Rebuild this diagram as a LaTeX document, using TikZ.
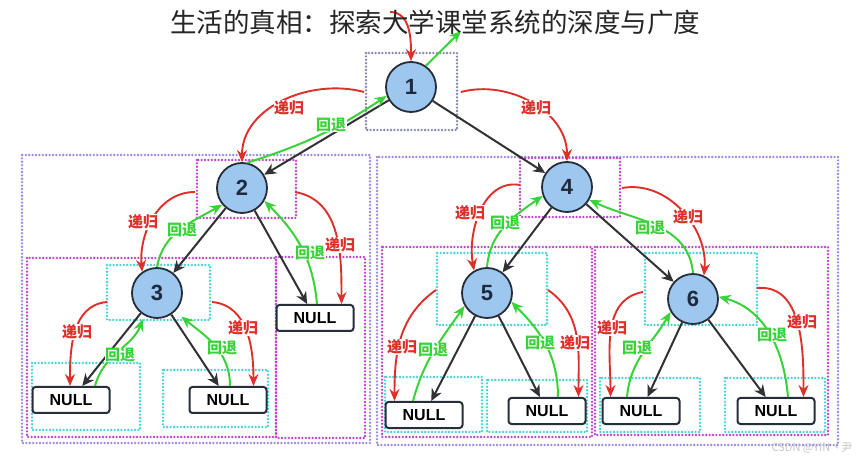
\documentclass[tikz,border=0pt]{standalone}
\usepackage{fontspec}
\setmainfont{Liberation Sans}
\newfontfamily\cjk{Noto Sans CJK SC}
\usetikzlibrary{arrows.meta}
\definecolor{nodefill}{RGB}{158,199,240}
\definecolor{nodeline}{RGB}{38,46,58}
\definecolor{numcol}{RGB}{30,42,62}
\definecolor{edgecol}{RGB}{50,50,54}
\definecolor{reccol}{RGB}{222,48,42}
\definecolor{backcol}{RGB}{58,210,58}
\definecolor{greybox}{RGB}{130,135,175}
\definecolor{outerbox}{RGB}{150,140,225}
\definecolor{magbox}{RGB}{188,70,200}
\definecolor{cyanbox}{RGB}{70,210,215}
\tikzset{
    treenode/.style={circle, draw=nodeline, line width=1.8pt, fill=nodefill, minimum size=50pt, inner sep=0pt,
        text=numcol, font=\fontsize{22}{22}\selectfont\bfseries},
    nullbox/.style={draw=nodeline, line width=2pt, rounded corners=3pt, fill=white, minimum width=77pt,
        minimum height=26pt, inner sep=0pt, font=\fontsize{16}{16}\selectfont\bfseries},
    tree/.style={draw=edgecol, line width=2pt, -{Stealth[length=12pt,width=11pt]}},
    rec/.style={draw=reccol, line width=1.9pt, -{Stealth[length=12pt,width=10pt]}},
    back/.style={draw=backcol, line width=2pt, -{Stealth[length=12pt,width=10pt]}},
    reclabel/.style={text=reccol, fill=white, inner sep=0.5pt, font=\cjk\fontsize{15}{15}\selectfont\bfseries},
    backlabel/.style={text=backcol, fill=white, inner sep=0.5pt, font=\cjk\fontsize{15}{15}\selectfont\bfseries},
    dotbox/.style={line width=2.6pt, line cap=round, dash pattern=on 0pt off 3.4pt}
}
\begin{document}
\begin{tikzpicture}[x=1pt, y=1pt]
        \useasboundingbox[fill=white] (0,0) rectangle (868,-462);
        \draw[dotbox, draw=greybox] (366,-53) rectangle (457,-130);
        \draw[dotbox, draw=outerbox] (22,-155) rectangle (370,-443);
        \draw[dotbox, draw=outerbox] (377,-157) rectangle (838,-445);
        \foreach \xa/\ya/\xb/\yb in {197/160/296/218, 520/158/620/217, 27/258/276/437, 276/257/365/438,
            382/247/592/437, 595/247/828/435}
            \draw[dotbox, draw=magbox] (\xa,-\ya) rectangle (\xb,-\yb);
        \foreach \xa/\ya/\xb/\yb in {107/265/210/320, 32/363/140/430, 163/370/268/427, 437/253/547/325,
            645/253/757/325, 385/377/482/432, 487/380/587/432, 600/378/700/432, 725/378/825/432}
            \draw[dotbox, draw=cyanbox] (\xa,-\ya) rectangle (\xb,-\yb);

        \node[treenode] (n1) at (411,-87) {1};
        \node[treenode] (n2) at (242,-188) {2};
        \node[treenode] (n3) at (157,-293) {3};
        \node[treenode] (n4) at (567,-187) {4};
        \node[treenode] (n5) at (487,-293) {5};
        \node[treenode] (n6) at (693,-299) {6};
        \node[nullbox] (z3l) at (71,-400) {NULL};
        \node[nullbox] (z3r) at (228,-400) {NULL};
        \node[nullbox] (z2r) at (315,-318) {NULL};
        \node[nullbox] (z5l) at (424,-415) {NULL};
        \node[nullbox] (z5r) at (547,-411) {NULL};
        \node[nullbox] (z6l) at (641,-411) {NULL};
        \node[nullbox] (z6r) at (776,-411) {NULL};

        \draw[tree] (n1) -- (n2);
        \draw[tree] (n1) -- (n4);
        \draw[tree] (n2) -- (n3);
        \draw[tree] (n2) -- (z2r);
        \draw[tree] (n3) -- (z3l);
        \draw[tree] (n3) -- (z3r);
        \draw[tree] (n4) -- (n5);
        \draw[tree] (n4) -- (n6);
        \draw[tree] (n5) -- (z5l);
        \draw[tree] (n5) -- (z5r);
        \draw[tree] (n6) -- (z6l);
        \draw[tree] (n6) -- (z6r);

        \coordinate (r1) at (390,-12);
        \coordinate (r2) at (364,-92);
        \coordinate (r4) at (461,-92);
        \coordinate (r3) at (195,-192);
        \coordinate (r2r) at (295,-192);
        \coordinate (r3l) at (107,-302);
        \coordinate (r3r) at (212,-302);
        \coordinate (r5) at (520,-185);
        \coordinate (r6) at (622,-188);
        \coordinate (r5l) at (436,-290);
        \coordinate (r5r) at (548,-290);
        \coordinate (r6l) at (643,-292);
        \coordinate (r6r) at (757,-288);
        \coordinate (b0) at (461,-31);

        \draw[rec] (r1) to[out=0, in=90] (n1.north);
        \draw[rec] (r2) to[out=165, in=90] (n2.north);
        \draw[rec] (r4) to[out=15, in=90] (n4.north);
        \draw[rec] (r3) to[out=180, in=95] (n3.125);
        \draw[rec] (r2r) to[out=-10, in=90] ([xshift=-13pt]z2r.north east);
        \draw[rec] (r3l) to[out=185, in=90] ([xshift=-1pt]z3l.north);
        \draw[rec] (r3r) to[out=-5, in=90] ([xshift=-14pt]z3r.north east);
        \draw[rec] (r5) to[out=170, in=100] (n5.120);
        \draw[rec] (r6) to[out=10, in=85] (n6.65);
        \draw[rec] (r5l) to[out=215, in=90] ([xshift=10pt]z5l.north west);
        \draw[rec] (r5r) to[out=-35, in=90] ([xshift=-8pt]z5r.north east);
        \draw[rec] (r6l) to[out=190, in=90] ([xshift=9pt]z6l.north west);
        \draw[rec] (r6r) to[out=5, in=90] ([xshift=-12pt]z6r.north east);

        \draw[back] (n1.55) -- (b0);
        \draw[back] (n2.78) to[bend right=8] (n1.200);
        \draw[back] (n3.north) to[out=80, in=210] (n2.220);
        \draw[back] ([xshift=2pt]z2r.north) to[out=95, in=-45] (n2.-30);
        \draw[back, shorten >=4pt] ([xshift=24pt]z3l.north) to[out=75, in=250] (n3.240);
        \draw[back, shorten >=8pt] ([xshift=2pt]z3r.north) to[out=90, in=-40] (n3.-45);
        \draw[back] (n5.north) to[out=85, in=215] (n4.200);
        \draw[back] (n6.north) to[out=95, in=-25] (n4.-30);
        \draw[back] ([xshift=-11pt]z5l.north) to[out=75, in=235] (n5.210);
        \draw[back] ([xshift=11pt]z5r.north) to[out=90, in=-45] (n5.-20);
        \draw[back] ([xshift=-14pt]z6l.north) to[out=85, in=240] (n6.210);
        \draw[back] ([xshift=12pt]z6r.north) to[out=95, in=-15] (n6.5);

        \foreach \x/\y in {289/108, 536/108, 143/222, 340/245, 77/332, 243/328, 470/213, 688/217,
            402/347, 575/343, 612/328, 802/322}
            \node[reclabel] at (\x,-\y) {递归};
        \foreach \x/\y in {331/125, 182/230, 310/253, 120/355, 222/348, 505/223, 650/228, 433/350,
            540/343, 637/348, 772/335}
            \node[backlabel] at (\x,-\y) {回退};

        \node[text=black!85, font=\cjk\fontsize{26.5}{26.5}\selectfont] (title) at (435,-22)
            {生活的真相：探索大学课堂系统的深度与广度};
        \node[text=black!22, font=\cjk\fontsize{11}{11}\selectfont] (mark) at (812,-448) {CSDN @YIN丶尹};
\end{tikzpicture}
\end{document}
